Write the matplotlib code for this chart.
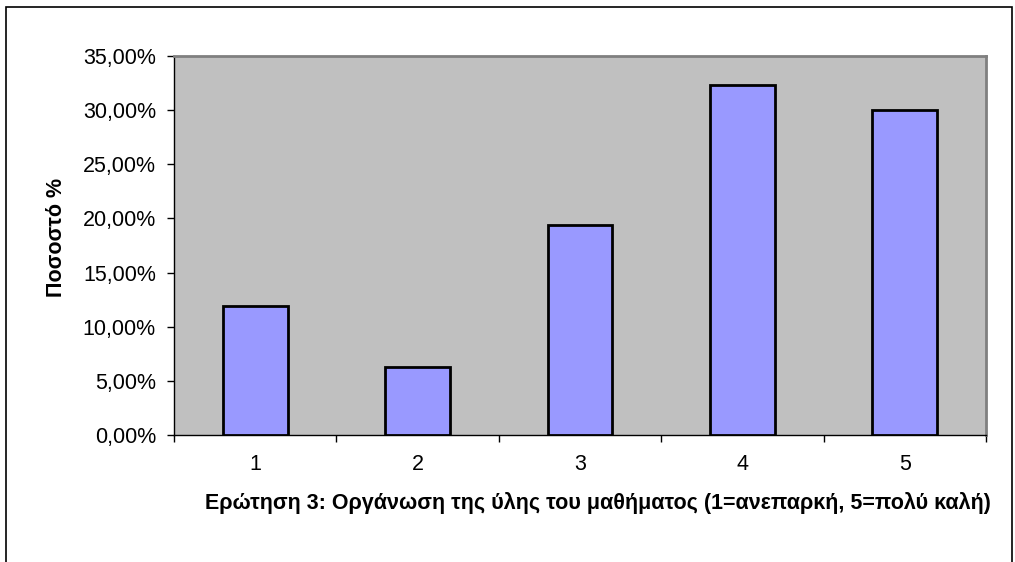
import matplotlib
matplotlib.use("Agg")
import matplotlib.pyplot as plt
from matplotlib.patches import Rectangle
from matplotlib.ticker import FuncFormatter

categories = ["1", "2", "3", "4", "5"]
values = [11.94, 6.27, 19.40, 32.34, 30.05]
y_ticks = [0, 5, 10, 15, 20, 25, 30, 35]

plt.rcParams['font.family'] = ['Liberation Sans', 'DejaVu Sans']

W, H = 1015, 562
fig = plt.figure(figsize=(W / 100, H / 100), dpi=100)
fig.patch.set_facecolor("white")

ax = fig.add_axes([174 / W, 1 - 435 / H, (986 - 174) / W, (435 - 56) / H])
ax.set_facecolor("#C0C0C0")

x = list(range(len(categories)))
ax.bar(x, values, width=0.4, color="#9999FF", edgecolor="black", linewidth=2, zorder=3)

ax.set_xlim(-0.5, len(categories) - 0.5)
ax.set_ylim(0, 35)
ax.set_yticks(y_ticks)
ax.yaxis.set_major_formatter(FuncFormatter(lambda v, p: f"{v:.2f}".replace(".", ",") + "%"))
ax.set_xticks(x)
ax.set_xticklabels(categories)
ax.set_xticks([i - 0.5 for i in range(len(categories) + 1)], minor=True)
ax.tick_params(axis="x", which="major", length=0, pad=14, labelsize=15.5)
ax.tick_params(axis="x", which="minor", length=5, width=1, direction="out", color="black")
ax.tick_params(axis="y", length=5, width=1, direction="out", labelsize=15.5, pad=8)

for s in ["top", "right"]:
    ax.spines[s].set_color("#808080")
    ax.spines[s].set_linewidth(2)
for s in ["left", "bottom"]:
    ax.spines[s].set_color("black")
    ax.spines[s].set_linewidth(1)

fig.text(57 / W, 1 - 237 / H, "Ποσοστό %", rotation=90, ha="center", va="center",
         fontsize=15.5, fontweight="bold")
fig.text(598 / W, 1 - 503 / H,
         "Ερώτηση 3: Οργάνωση της ύλης του μαθήματος (1=ανεπαρκή, 5=πολύ καλή)",
         ha="center", va="center", fontsize=15.5, fontweight="bold")

border = Rectangle((6 / W, -0.05), (1012 - 6) / W, 1.05 - 7 / H, transform=fig.transFigure,
                   fill=False, edgecolor="black", linewidth=1.2)
fig.patches.append(border)

fig.savefig("out.png", dpi=100)
